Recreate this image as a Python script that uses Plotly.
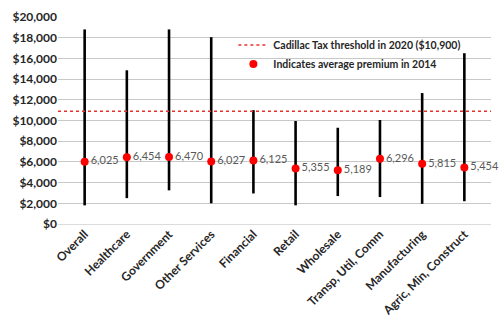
import plotly.graph_objects as go

categories = ["Overall", "Healthcare", "Government", "Other Services", "Financial",
              "Retail", "Wholesale", "Transp, Util, Comm", "Manufacturing", "Agric, Min, Construct"]
avg_premium = [6025, 6454, 6470, 6027, 6125, 5355, 5189, 6296, 5815, 5454]
range_low = [1800, 2500, 3250, 2000, 2950, 1800, 2700, 2600, 1950, 2200]
range_high = [18800, 14850, 18800, 18050, 11000, 9950, 9300, 10050, 12650, 16500]
threshold = 10900
tick_vals = list(range(0, 20001, 2000))
tick_text = ["${:,}".format(v) for v in tick_vals]

FONT = "Lato"
fig = go.Figure()

# vertical range lines
xs, ys = [], []
for c, lo, hi in zip(categories, range_low, range_high):
    xs += [c, c, None]
    ys += [lo, hi, None]
fig.add_trace(go.Scatter(x=xs, y=ys, mode="lines", line=dict(color="black", width=2.6),
                         showlegend=False, hoverinfo="skip"))

# threshold line on overlay axis spanning full width
fig.add_trace(go.Scatter(x=[0, 1], y=[threshold, threshold], xaxis="x2", mode="lines",
                         line=dict(color="#e8322c", width=1.5, dash="dot"),
                         name="Cadillac Tax threshold in 2020 ($10,900)"))

# average premium markers
fig.add_trace(go.Scatter(x=categories, y=avg_premium, mode="markers+text",
                         marker=dict(color="#ff0000", size=8),
                         text=["{:,}".format(v) for v in avg_premium],
                         textposition="middle right",
                         textfont=dict(family=FONT, size=11, color="#595959"),
                         cliponaxis=False,
                         name="Indicates average premium in 2014"))

fig.update_layout(
    width=500, height=327,
    margin=dict(l=58, r=9, t=12, b=101),
    paper_bgcolor="white", plot_bgcolor="white",
    font=dict(family=FONT, color="#404040"),
    xaxis=dict(tickangle=-45, tickfont=dict(family=FONT, size=12, color="#262626", weight="bold"),
               showgrid=False, showline=False, ticks=""),
    xaxis2=dict(overlaying="x", range=[0, 1], visible=False),
    yaxis=dict(range=[0, 20000], tickvals=tick_vals, ticktext=tick_text,
               tickfont=dict(family=FONT, size=12, color="#262626", weight="bold"),
               showgrid=True, gridcolor="#c8c8c8", gridwidth=1, zeroline=True,
               zerolinecolor="#dcdcdc", zerolinewidth=1),
    legend=dict(x=0.405, y=0.935, xanchor="left", yanchor="top", bgcolor="rgba(0,0,0,0)",
                font=dict(family=FONT, size=10.5, color="#262626", weight="bold"),
                tracegroupgap=0),
    showlegend=True,
)

fig.write_html("out.html")
